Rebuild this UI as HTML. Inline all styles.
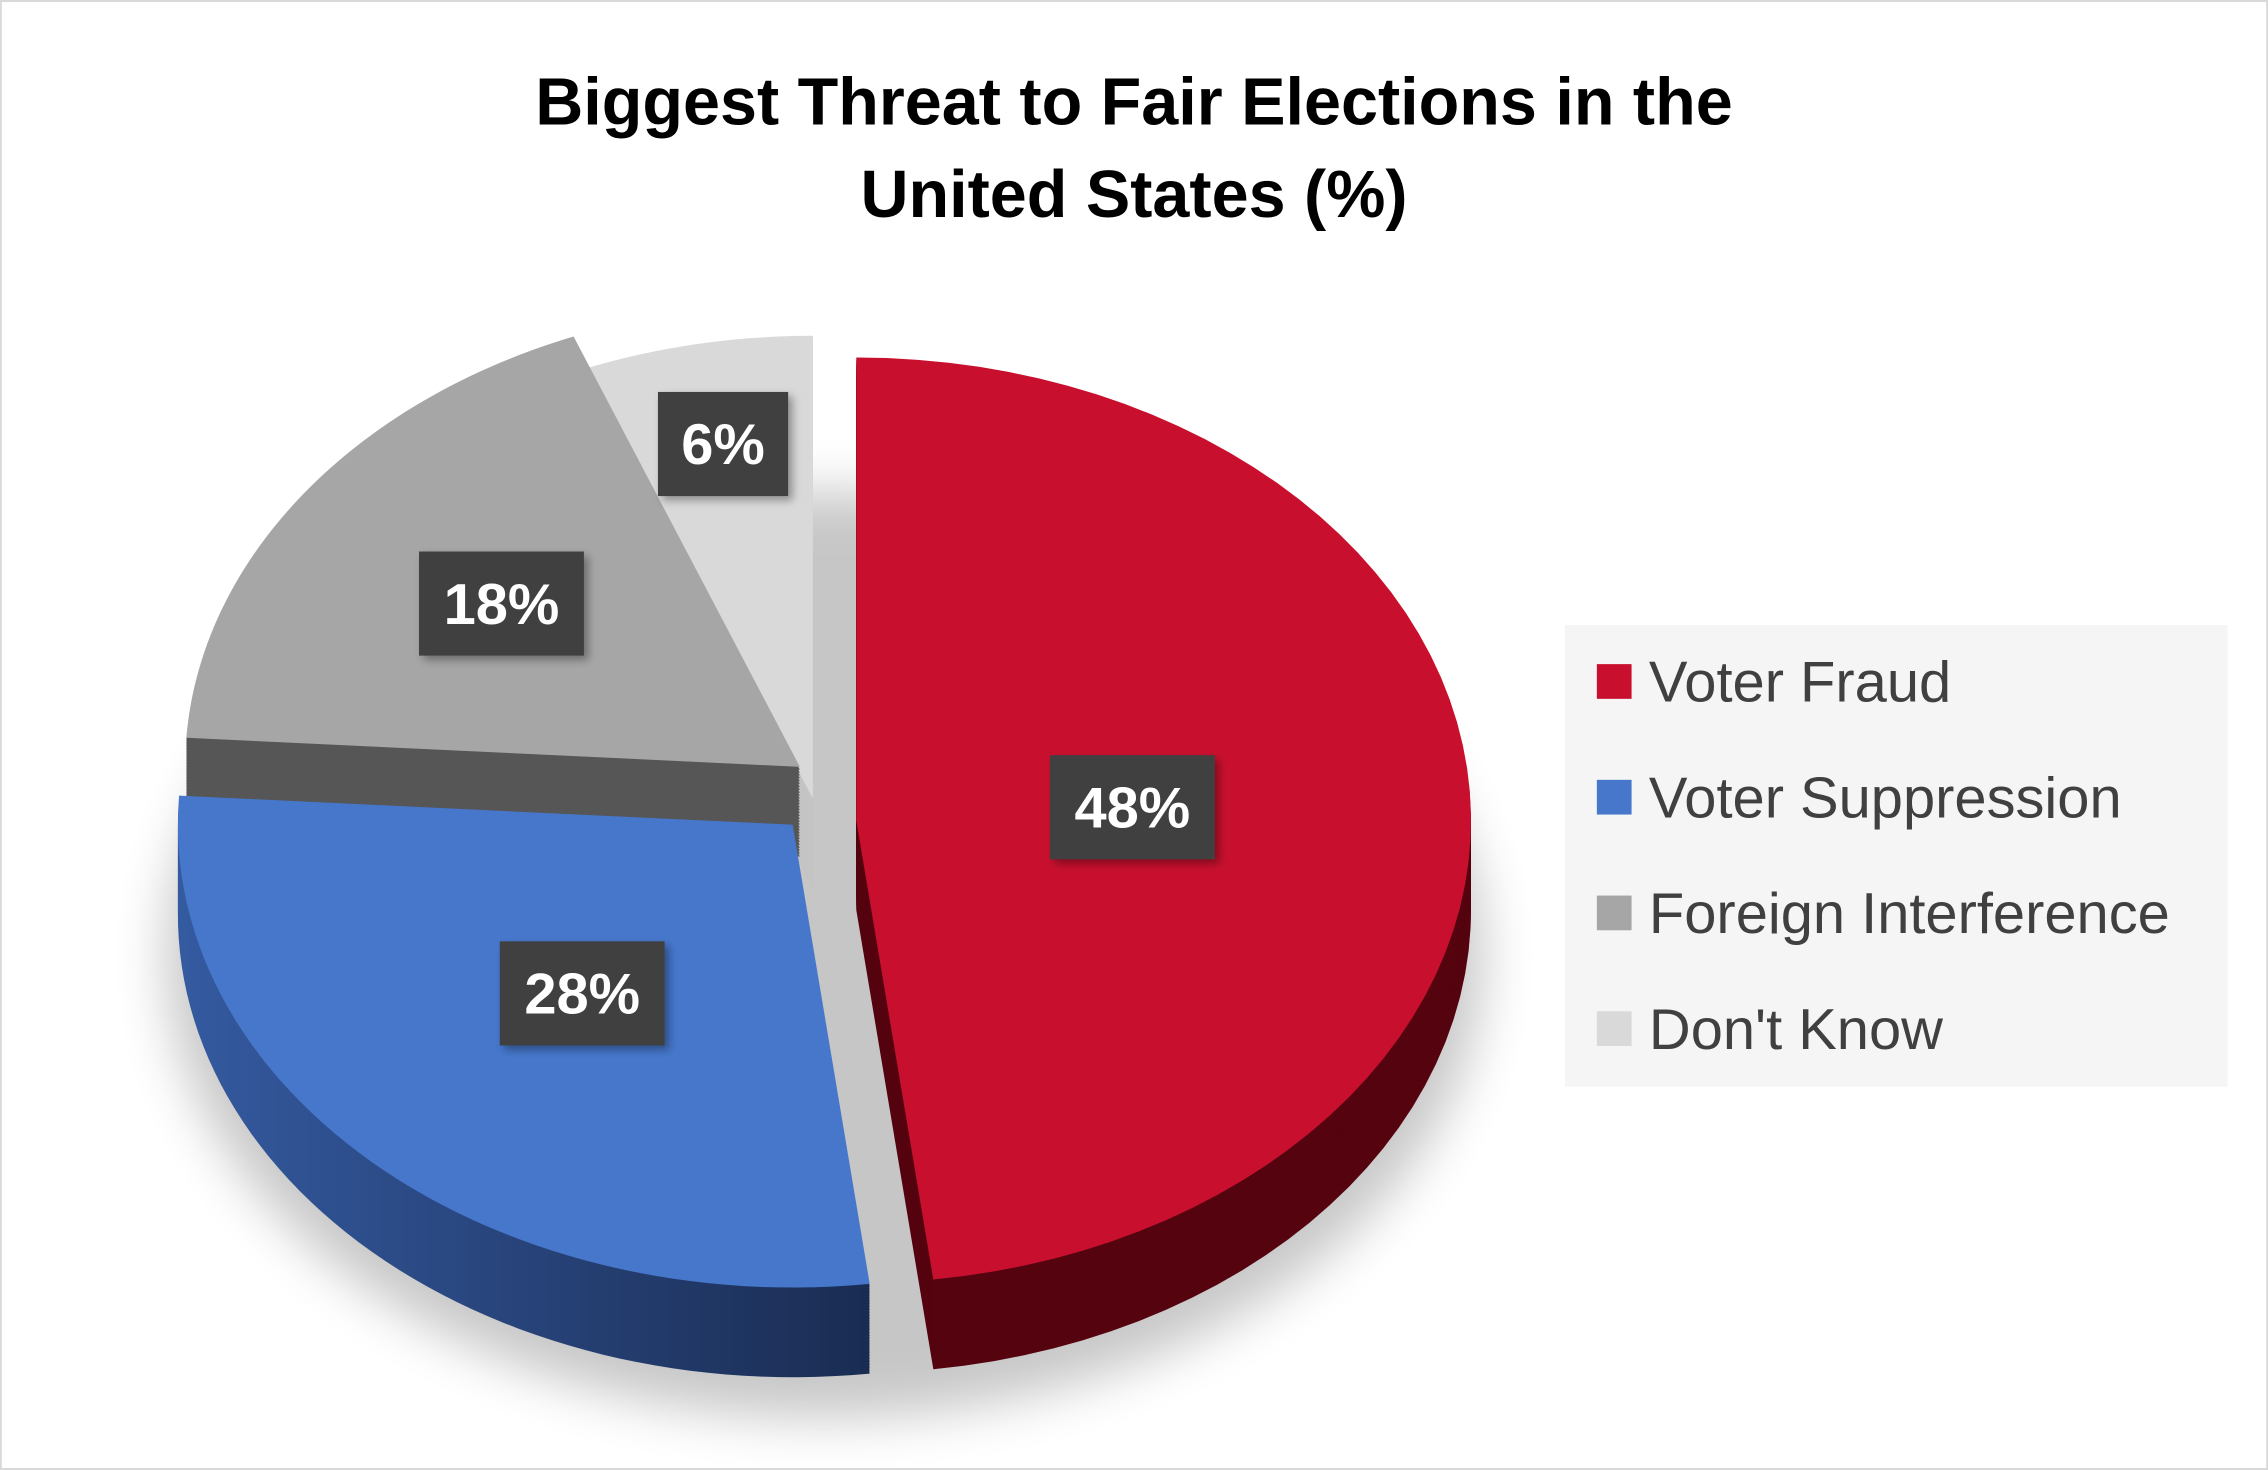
<!DOCTYPE html>
<html><head><meta charset="utf-8">
<style>
html,body{margin:0;padding:0;background:#fff;}
svg{display:block;}
text{font-family:"Liberation Sans",sans-serif;}
</style></head>
<body>
<svg id="chart" width="2268" height="1470" viewBox="0 0 1568 1016" xmlns="http://www.w3.org/2000/svg">
<defs>
  <filter id="blur" x="-20%" y="-20%" width="140%" height="140%"><feGaussianBlur stdDeviation="18"/></filter>
  <filter id="lblshadow" x="-20%" y="-20%" width="150%" height="150%"><feDropShadow dx="3" dy="3" stdDeviation="3" flood-color="#000" flood-opacity="0.35"/></filter>
  <linearGradient id="blueSide" x1="0" x2="1" y1="0" y2="0"><stop offset="0" stop-color="#345aa0"/><stop offset="1" stop-color="#1a2c52"/></linearGradient>
</defs>
<rect x="0.5" y="0.5" width="1567" height="1015" fill="#fff" stroke="#d9d9d9" stroke-width="1.5"/>
<g font-size="46" font-weight="bold" fill="#000" text-anchor="middle">
  <text x="784" y="86">Biggest Threat to Fair Elections in the</text>
  <text x="784" y="150">United States (%)</text>
</g>
<ellipse cx="570" cy="660" rx="455" ry="320" fill="#000" opacity="0.22" filter="url(#blur)"/>
<g id="pie"></g>
<g id="labels"></g>
<g>
  <rect x="1082" y="432" width="458" height="319" fill="#f5f5f5"/>
  <g id="legend-items"></g>
</g>
</svg>
<script>
const categories = ["Voter Fraud","Voter Suppression","Foreign Interference","Don't Know"];
const values = [48, 28, 18, 6];
const valueLabels = ["48%","28%","18%","6%"];

const topColors = ["#c8102e","#4677cb","#a6a6a6","#d9d9d9"];
const sideColors = ["#55040f","url(#blueSide)","#565656","#c4c4c4"];
const offsets = [[27,12],[-17,15],[-12,-25],[-3,-3]];
const labelRadius = [0.45,0.5,0.6,0.78];
const cx=565, cy=555, rx=425, ry=320, depth=62;
const NS="http://www.w3.org/2000/svg";
const total = values.reduce((a,b)=>a+b,0);
function pt(deg, r, o){const t=deg*Math.PI/180;return [cx+o[0]+rx*r*Math.sin(t), cy+o[1]-ry*r*Math.cos(t)];}
function slicePath(a0,a1,o,dy){
  let d=`M${cx+o[0]},${cy+o[1]+dy}`;
  for(let a=a0;a<=a1+0.001;a+=(a1-a0)/60){const p=pt(a,1,o);d+=` L${p[0].toFixed(2)},${(p[1]+dy).toFixed(2)}`;}
  return d+" Z";
}
const pie=document.getElementById('pie');
const labels=document.getElementById('labels');
let angles=[];let acc=0;
values.forEach(v=>{const a0=acc/total*360;acc+=v;angles.push([a0,acc/total*360]);});
const order=[3,2,0,1];
order.forEach(i=>{
  const [a0,a1]=angles[i];const o=offsets[i];
  const g=document.createElementNS(NS,'g');
  
  
  for(let dy=depth;dy>0;dy-=2){
    const s=document.createElementNS(NS,'path');
    s.setAttribute('d',slicePath(a0,a1,o,dy));
    s.setAttribute('fill',sideColors[i]);
    g.appendChild(s);
  }
  const t=document.createElementNS(NS,'path');
  t.setAttribute('d',slicePath(a0,a1,o,0));
  t.setAttribute('fill',topColors[i]);
  g.appendChild(t);
  pie.appendChild(g);
});
values.forEach((v,i)=>{
  const [a0,a1]=angles[i];const p=pt((a0+a1)/2,labelRadius[i],offsets[i]);
  const g=document.createElementNS(NS,'g');
  
  
  const w=valueLabels[i].length>2?114:90;
  const r=document.createElementNS(NS,'rect');
  r.setAttribute('x',p[0]-w/2);r.setAttribute('y',p[1]-36);
  r.setAttribute('width',w);r.setAttribute('height',72);
  r.setAttribute('fill','#404040');r.setAttribute('filter','url(#lblshadow)');
  g.appendChild(r);
  const tx=document.createElementNS(NS,'text');
  tx.setAttribute('x',p[0]);tx.setAttribute('y',p[1]+14);
  tx.setAttribute('text-anchor','middle');tx.setAttribute('font-size','40');
  tx.setAttribute('font-weight','bold');tx.setAttribute('fill','#fff');
  tx.textContent=valueLabels[i];
  g.appendChild(tx);
  labels.appendChild(g);
});
const leg=document.getElementById('legend-items');
categories.forEach((c,i)=>{
  const g=document.createElementNS(NS,'g');
  
  
  const y=471+i*80;
  const r=document.createElementNS(NS,'rect');
  r.setAttribute('x',1104);r.setAttribute('y',y-12);r.setAttribute('width',24);r.setAttribute('height',24);
  r.setAttribute('fill',topColors[i]);
  g.appendChild(r);
  const t=document.createElementNS(NS,'text');
  t.setAttribute('x',1140);t.setAttribute('y',y+14);t.setAttribute('font-size','40');t.setAttribute('fill','#404040');
  t.textContent=c;
  g.appendChild(t);
  leg.appendChild(g);
});
</script>
</body></html>
